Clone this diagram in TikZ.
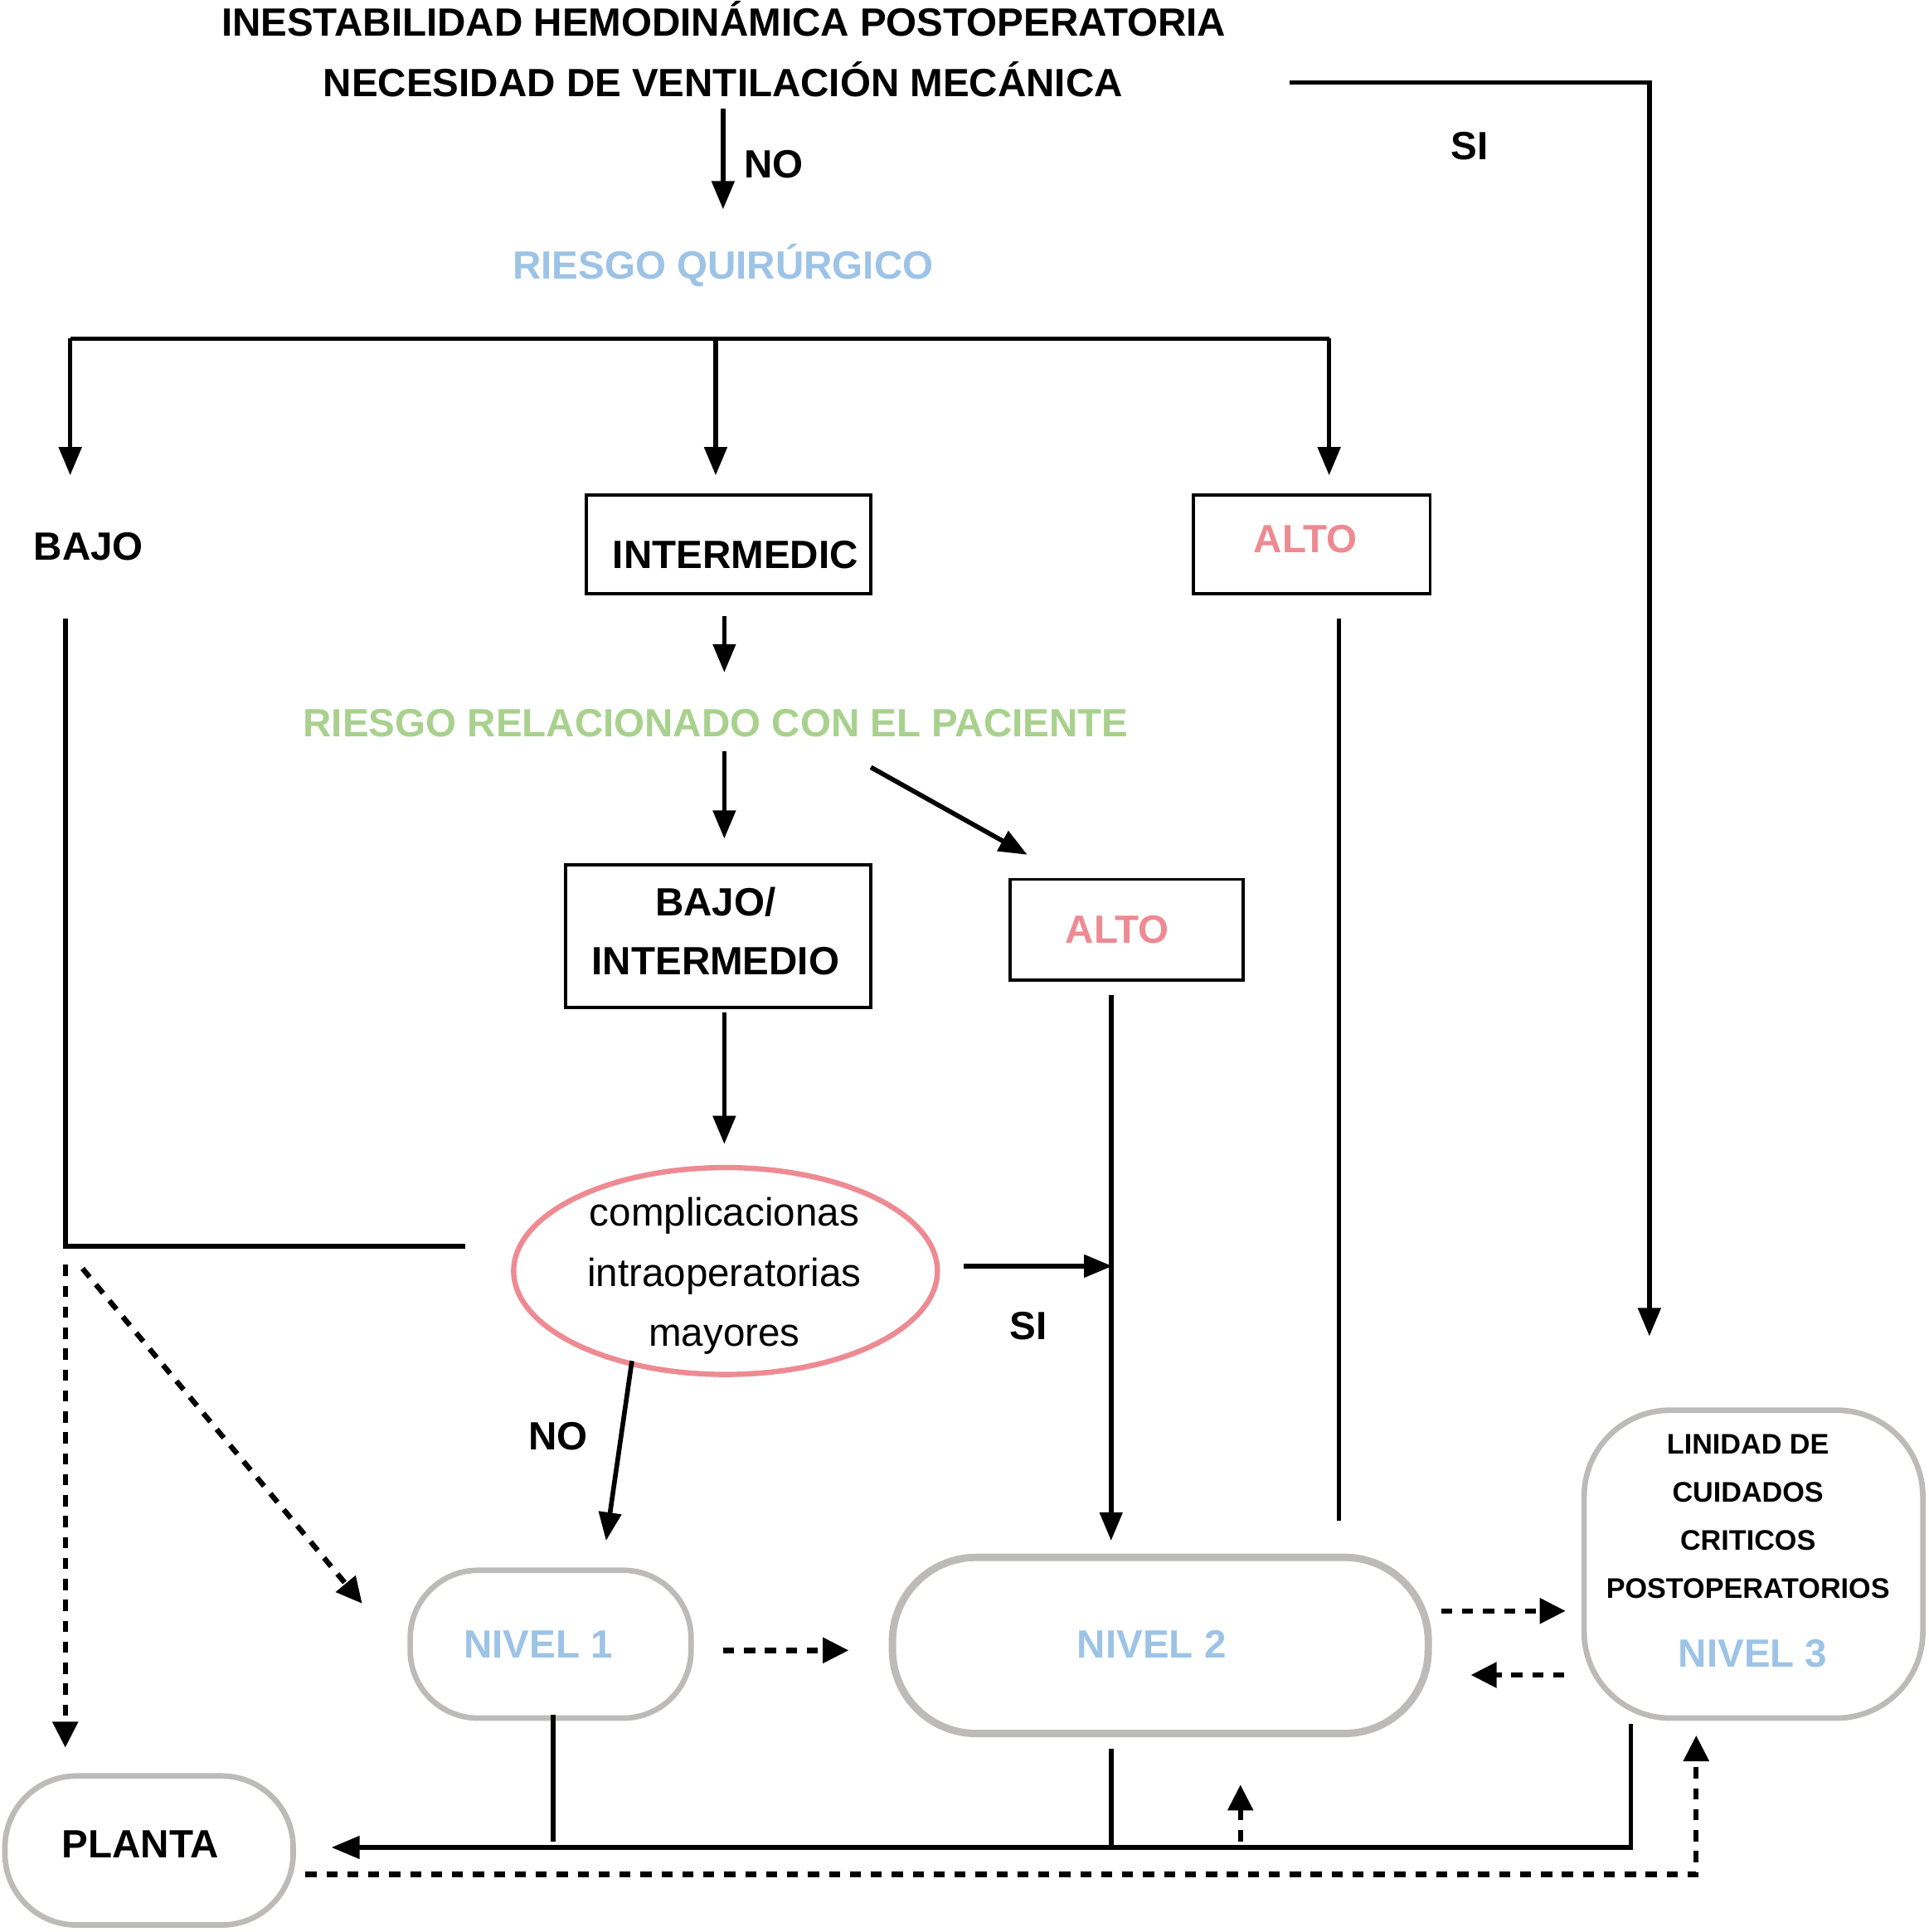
\documentclass[tikz,border=0pt]{standalone}
\usepackage{fontspec}
\setmainfont{Liberation Sans}
\usetikzlibrary{arrows.meta,shapes.geometric,calc}
\definecolor{lblue}{HTML}{9DC3E6}
\definecolor{lgreen}{HTML}{A9D18E}
\definecolor{lpink}{HTML}{EE8A92}
\definecolor{lgray}{HTML}{BDBBB9}
\begin{document}
\begin{tikzpicture}[x=1pt,y=-1pt,
  lbl/.style={font=\fontsize{32}{49}\selectfont\bfseries, inner sep=0pt, text height=23pt, text depth=0pt},
  lblm/.style={font=\fontsize{32}{48}\selectfont\bfseries, inner sep=0pt, align=center},
  smallm/.style={font=\fontsize{23}{39}\selectfont\bfseries, inner sep=0pt, align=center},
  regm/.style={font=\fontsize{32}{49}\selectfont, inner sep=0pt, align=center},
  sqbox/.style={draw=black, line width=2.6pt, inner sep=0pt},
  rbox/.style={draw=lgray, line width=4.5pt, inner sep=0pt},
  conn/.style={line width=3.8pt, -{Triangle[length=23pt,width=18pt]}},
  plainln/.style={line width=3.8pt},
  dconn/.style={line width=4.3pt, dash pattern=on 9pt off 8pt, -{Triangle[length=21pt,width=20pt]}},
]
\useasboundingbox[fill=white] (0,0) rectangle (1566,1568.7);

% texts and boxes
\node[lbl] (t1) at (587.5,18) {INESTABILIDAD HEMODINÁMICA POSTOPERATORIA};
\node[lbl] (t2) at (587,67) {NECESIDAD DE VENTILACIÓN MECÁNICA};
\node[lbl] (no1) at (628,133) {NO};
\node[lbl] (si1) at (1193,118) {SI};
\node[lbl, text=lblue] (rq) at (587,215) {RIESGO QUIRÚRGICO};
\node[lbl] (bajo) at (72,443) {BAJO};
\node[sqbox, minimum width=231pt, minimum height=80pt] (inter) at (591.5,442) {};
\node[lbl] (intert) at (597,450) {INTERMEDIC};
\node[sqbox, minimum width=192pt, minimum height=80pt] (alto1) at (1065,442) {};
\node[lbl, text=lpink] (alto1t) at (1060,437) {ALTO};
\node[lbl, text=lgreen] (rp) at (581,587) {RIESGO RELACIONADO CON EL PACIENTE};
\node[sqbox, minimum width=248pt, minimum height=116pt] (bi) at (583,760) {};
\node[lblm] (bit) at (581,756) {BAJO/\\INTERMEDIO};
\node[sqbox, minimum width=189pt, minimum height=82pt] (alto2) at (914.5,755) {};
\node[lbl, text=lpink] (alto2t) at (907,754) {ALTO};
\node[draw=lpink, line width=4.3pt, ellipse, minimum width=344pt, minimum height=168pt, inner sep=0pt] (el) at (589,1032) {};
\node[regm] (elt) at (588,1036) {complicacionas\\intraoperatorias\\mayores};
\node[lbl] (si2) at (835,1076) {SI};
\node[lbl] (no2) at (453,1166) {NO};

\node[rbox, minimum width=228pt, minimum height=120pt, rounded corners=55pt] (n1) at (447,1335) {};
\node[lbl, text=lblue] (n1t) at (437,1335) {NIVEL 1};
\node[rbox, line width=6pt, minimum width=435pt, minimum height=143pt, rounded corners=68pt] (n2) at (942,1336) {};
\node[lbl, text=lblue] (n2t) at (935,1335) {NIVEL 2};
\node[rbox, minimum width=275pt, minimum height=250pt, rounded corners=70pt] (n3) at (1423.5,1270) {};
\node[smallm] (n3t) at (1419,1231.5) {LINIDAD DE\\CUIDADOS\\CRITICOS\\POSTOPERATORIOS};
\node[lbl, text=lblue] (n3n) at (1423,1342) {NIVEL 3};
\node[rbox, minimum width=234pt, minimum height=121pt, rounded corners=58pt] (pl) at (121,1502.5) {};
\node[lbl] (plt) at (114,1497) {PLANTA};

% coordinates
\coordinate (noS) at (587,88);
\coordinate (noE) at (587,170);
\coordinate (siS) at (1047,67);
\coordinate (siE) at (1339,1085);
\coordinate (bL) at (57,275);
\coordinate (bM) at (581,275);
\coordinate (bR) at (1079,275);
\coordinate (aL) at (57,386);
\coordinate (aM) at (581,386);
\coordinate (aR) at (1079,386);
\coordinate (i1) at (588,500);
\coordinate (i2) at (588,546);
\coordinate (r1) at (588,610);
\coordinate (r2) at (588,681);
\coordinate (d1) at (707,623);
\coordinate (d2) at (834,694);
\coordinate (b1) at (588,822);
\coordinate (b2) at (588,929);
\coordinate (bajoA) at (53,502);
\coordinate (bajoB) at (53,1012);
\coordinate (bajoC) at (378,1012);
\coordinate (altoA) at (1087,502);
\coordinate (altoB) at (1087,1235);
\coordinate (alto2A) at (902,808);
\coordinate (alto2B) at (902,1251);
\coordinate (siA) at (782,1028);
\coordinate (siB) at (903,1028);
\coordinate (noA) at (513,1105);
\coordinate (noB) at (492,1251);
\coordinate (dv1) at (53,1027);
\coordinate (dv2) at (53,1419);
\coordinate (dd1) at (67,1030);
\coordinate (dd2) at (294,1302);
\coordinate (h12a) at (587,1340);
\coordinate (h12b) at (689,1340);
\coordinate (h23a) at (1170,1308);
\coordinate (h23b) at (1271,1308);
\coordinate (h32a) at (1270,1360);
\coordinate (h32b) at (1194,1360);
\coordinate (v1a) at (449,1392);
\coordinate (v1b) at (449,1495);
\coordinate (v2a) at (902,1420);
\coordinate (v2b) at (902,1500);
\coordinate (v3a) at (1324,1400);
\coordinate (v3b) at (1324,1500);
\coordinate (pA) at (269,1500);
\coordinate (up1) at (1007,1495);
\coordinate (up2) at (1007,1449);
\coordinate (bd1) at (248,1522);
\coordinate (bd2) at (1377,1522);
\coordinate (bd3) at (1377,1409);

% connectors
\draw[conn] (noS) -- (noE);
\draw[conn] (siS) -| (siE);
\draw[plainln] (bL) -- (bR);
\draw[conn] (bL) -- (aL);
\draw[conn] (bM) -- (aM);
\draw[conn] (bR) -- (aR);
\draw[conn] (i1) -- (i2);
\draw[conn] (r1) -- (r2);
\draw[conn] (d1) -- (d2);
\draw[conn] (b1) -- (b2);
\draw[plainln] (bajoA) -- (bajoB) -- (bajoC);
\draw[plainln] (altoA) -- (altoB);
\draw[conn] (alto2A) -- (alto2B);
\draw[conn] (siA) -- (siB);
\draw[conn] (noA) -- (noB);
\draw[dconn] (dv1) -- (dv2);
\draw[dconn] (dd1) -- (dd2);
\draw[dconn] (h12a) -- (h12b);
\draw[dconn] (h23a) -- (h23b);
\draw[dconn] (h32a) -- (h32b);
\draw[plainln] (v1a) -- (v1b);
\draw[plainln] (v2a) -- (v2b);
\draw[conn] (v3a) -- (v3b) -- (pA);
\draw[dconn] (up1) -- (up2);
\draw[dconn] (bd1) -- (bd2) -- (bd3);
\end{tikzpicture}
\end{document}
